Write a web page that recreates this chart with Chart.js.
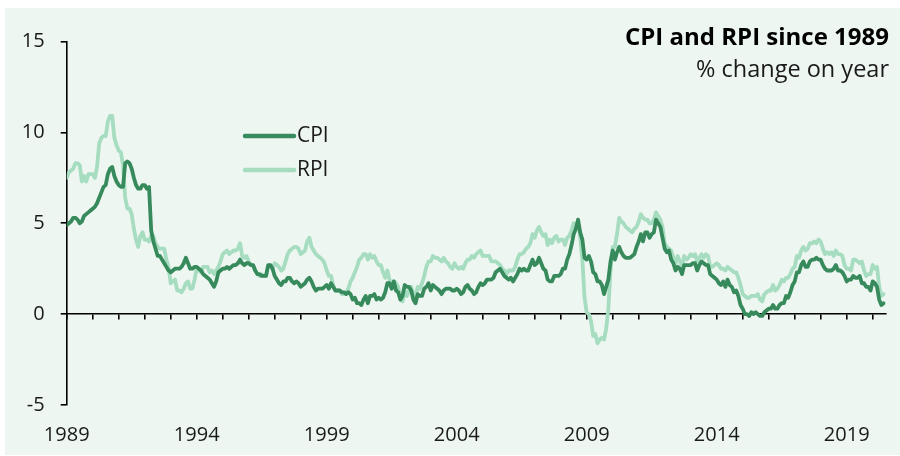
<!DOCTYPE html>
<html><head><meta charset="utf-8">
<script src="https://cdn.jsdelivr.net/npm/chart.js@4/dist/chart.umd.min.js"></script>
<style>html,body{margin:0;padding:0;background:#fff}#wrap{width:900px;height:456px}</style>
</head><body><div id="wrap"><canvas id="c" width="900" height="456"></canvas></div>
<script>
// ---- data (monthly, Jan 1989 – Jun 2020, % change on year) ----
const startYear = 1989;
const yearLabels = ['1989','1994','1999','2004','2009','2014','2019'];
const yTicks = [-5, 0, 5, 10, 15];
const seriesNames = ['CPI', 'RPI'];
const titleText = 'CPI and RPI since 1989';
const subtitleText = '% change on year';

const cpi = [
 4.9,5.0,5.1,5.3,5.3,5.2,5.0,5.1,5.4,5.5,5.6,5.7,
 5.8,5.9,6.1,6.4,6.7,7.0,7.1,7.7,8.0,8.1,7.6,7.3,
 7.1,7.0,7.0,8.3,8.4,8.3,8.0,7.5,7.1,6.9,6.9,7.1,
 7.1,6.9,7.0,4.6,4.0,3.6,3.2,3.2,3.0,2.8,2.6,2.4,
 2.3,2.4,2.5,2.5,2.5,2.6,2.8,3.1,2.8,2.5,2.5,2.6,
 2.6,2.5,2.4,2.2,2.1,2.0,1.9,1.7,1.5,1.8,2.3,2.4,
 2.5,2.5,2.6,2.5,2.6,2.7,2.7,2.8,3.0,2.8,2.7,2.8,
 2.8,2.7,2.7,2.4,2.2,2.2,2.1,2.1,2.1,2.7,2.7,2.5,
 2.1,1.9,1.7,1.6,1.8,1.8,2.0,2.0,1.8,1.7,1.8,1.7,
 1.5,1.6,1.7,1.9,2.0,1.8,1.5,1.3,1.4,1.4,1.4,1.5,
 1.6,1.4,1.7,1.5,1.3,1.3,1.3,1.2,1.2,1.1,1.2,1.1,
 0.8,0.9,0.6,0.6,0.5,0.8,1.0,0.6,1.0,1.0,1.1,0.8,
 0.9,0.8,0.9,1.2,1.7,1.7,1.4,1.8,1.3,1.2,0.8,1.0,
 1.6,1.5,1.5,1.3,0.8,0.6,1.1,1.0,1.0,1.4,1.5,1.7,
 1.3,1.6,1.5,1.4,1.3,1.1,1.3,1.4,1.4,1.4,1.3,1.3,
 1.4,1.3,1.1,1.2,1.5,1.6,1.4,1.3,1.1,1.2,1.5,1.7,
 1.6,1.7,1.9,1.9,1.9,2.0,2.3,2.4,2.5,2.3,2.1,2.0,
 1.9,2.0,1.8,2.0,2.2,2.5,2.4,2.5,2.4,2.4,2.7,3.0,
 2.7,2.8,3.1,2.8,2.5,2.4,1.9,1.8,1.8,2.1,2.1,2.1,
 2.2,2.5,2.5,3.0,3.3,3.8,4.4,4.7,5.2,4.5,4.1,3.1,
 3.0,3.2,2.9,2.3,2.2,1.8,1.8,1.6,1.1,1.5,1.9,2.9,
 3.5,3.0,3.4,3.7,3.4,3.2,3.1,3.1,3.1,3.2,3.3,3.7,
 4.0,4.4,4.0,4.5,4.5,4.2,4.4,4.5,5.2,5.0,4.8,4.2,
 3.6,3.4,3.5,3.0,2.8,2.4,2.6,2.5,2.2,2.7,2.7,2.7,
 2.7,2.8,2.8,2.4,2.7,2.9,2.8,2.7,2.7,2.2,2.1,2.0,
 1.9,1.7,1.6,1.8,1.5,1.9,1.6,1.5,1.2,1.3,1.0,0.5,
 0.3,0.0,0.0,-0.1,0.1,0.0,0.1,0.0,-0.1,-0.1,0.1,0.2,
 0.3,0.3,0.5,0.3,0.3,0.5,0.6,0.6,1.0,0.9,1.2,1.6,
 1.8,2.3,2.3,2.7,2.9,2.6,2.6,2.9,3.0,3.0,3.1,3.0,
 3.0,2.7,2.5,2.4,2.4,2.4,2.5,2.7,2.4,2.4,2.3,2.1,
 1.8,1.9,1.9,2.1,2.0,2.0,2.1,1.7,1.7,1.5,1.5,1.3,
 1.8,1.7,1.5,0.8,0.5,0.6
];

const rpi = [
 7.5,7.8,7.9,8.0,8.3,8.3,8.2,7.3,7.6,7.3,7.7,7.7,
 7.7,7.5,8.1,9.4,9.7,9.8,9.8,10.6,10.9,10.9,9.7,9.3,
 9.0,8.9,8.2,6.4,5.8,5.8,5.5,4.7,4.1,3.7,4.3,4.5,
 4.1,4.1,4.0,4.3,4.3,3.9,3.7,3.6,3.6,3.6,3.0,2.6,
 1.7,1.8,1.9,1.3,1.3,1.2,1.4,1.7,1.8,1.4,1.4,1.9,
 2.5,2.4,2.3,2.6,2.6,2.6,2.3,2.4,2.2,2.4,2.6,2.9,
 3.3,3.4,3.5,3.3,3.4,3.5,3.5,3.6,3.9,3.2,3.1,3.2,
 2.9,2.7,2.7,2.4,2.2,2.1,2.2,2.1,2.1,2.7,2.7,2.5,
 2.8,2.7,2.6,2.4,2.5,2.9,3.3,3.5,3.6,3.7,3.7,3.6,
 3.3,3.4,3.5,4.0,4.2,3.7,3.5,3.3,3.2,3.1,3.0,2.8,
 2.4,2.1,2.1,1.6,1.3,1.3,1.3,1.1,1.1,1.2,1.4,1.8,
 2.0,2.3,2.6,3.0,3.1,3.3,3.3,3.0,3.3,3.1,3.2,2.9,
 2.7,2.7,2.3,2.0,2.4,1.9,1.5,1.8,1.7,1.5,0.9,0.7,
 1.3,1.0,1.3,1.5,1.1,1.0,1.5,1.4,1.7,2.1,2.6,2.9,
 2.9,3.2,3.1,3.1,3.0,2.9,3.1,2.9,2.8,2.6,2.5,2.8,
 2.6,2.5,2.6,2.5,2.8,3.0,3.0,3.2,3.1,3.3,3.4,3.5,
 3.2,3.2,3.2,3.2,2.9,2.9,2.9,2.8,2.7,2.5,2.4,2.2,
 2.4,2.4,2.4,2.6,3.0,3.3,3.3,3.4,3.6,3.7,3.9,4.4,
 4.2,4.6,4.8,4.5,4.3,4.4,3.8,4.1,3.9,4.2,4.3,4.0,
 4.1,4.1,3.8,4.2,4.3,4.6,5.0,4.8,5.0,4.2,3.0,0.9,
 0.1,0.0,-0.4,-1.2,-1.1,-1.6,-1.4,-1.3,-1.4,-0.8,0.3,2.4,
 3.7,3.7,4.4,5.3,5.1,5.0,4.8,4.7,4.6,4.5,4.7,4.8,
 5.1,5.5,5.3,5.2,5.2,5.0,5.0,5.2,5.6,5.4,5.2,4.8,
 3.9,3.7,3.6,3.5,3.1,2.8,3.2,2.9,2.6,3.2,3.0,3.1,
 3.3,3.2,3.3,2.9,3.1,3.3,3.1,3.3,3.2,2.6,2.6,2.7,
 2.8,2.7,2.5,2.5,2.4,2.6,2.5,2.4,2.3,2.3,2.0,1.6,
 1.1,1.0,0.9,0.9,1.0,1.0,1.0,1.1,0.8,0.7,1.1,1.2,
 1.3,1.3,1.6,1.3,1.4,1.6,1.9,1.8,2.0,2.0,2.2,2.5,
 2.6,3.2,3.1,3.5,3.7,3.5,3.6,3.9,3.9,4.0,3.9,4.1,
 4.0,3.6,3.3,3.4,3.3,3.4,3.2,3.5,3.3,3.3,3.2,2.7,
 2.5,2.5,2.4,3.0,3.0,2.9,2.8,2.9,2.4,2.1,2.2,2.2,
 2.7,2.5,2.6,1.5,1.0,1.1
];

// ---- styling ----
const FONT = '"Open Sans", "Noto Sans", sans-serif';
const TEXT = '#1a1a1a';
const CPI_COL = '#378a5b';
const RPI_COL = '#a6dcbf';
const BG = '#edf6f1';

const monthsTotal = 378; // axis span in months from Jan of startYear
const toPoints = arr => arr.map((v, i) => ({ x: i, y: v }));

const bgPlugin = {
  id: 'bg',
  beforeDraw(chart) {
    const c = chart.ctx;
    c.save();
    c.fillStyle = '#ffffff';
    c.fillRect(0, 0, chart.width, chart.height);
    c.fillStyle = BG;
    c.fillRect(5, 8, chart.width - 5, chart.height - 9);
    c.restore();
  }
};

const titlePlugin = {
  id: 'titles',
  afterDraw(chart) {
    const c = chart.ctx;
    c.save();
    c.fillStyle = '#000';
    c.textAlign = 'right';
    c.textBaseline = 'alphabetic';
    c.font = 'bold 24px ' + FONT;
    c.fillText(titleText, 889, 45);
    c.fillStyle = TEXT;
    c.font = '23.5px ' + FONT;
    c.fillText(subtitleText, 889, 77);
    c.restore();
  }
};

const legendPlugin = {
  id: 'customLegend',
  afterDraw(chart) {
    const c = chart.ctx;
    c.save();
    chart.data.datasets.forEach((ds, i) => {
      const y = 136 + i * 34;
      c.strokeStyle = ds.borderColor;
      c.lineWidth = 4.5;
      c.lineCap = 'round';
      c.beginPath();
      c.moveTo(245, y);
      c.lineTo(294, y);
      c.stroke();
      c.fillStyle = TEXT;
      c.font = '21px ' + FONT;
      c.textAlign = 'left';
      c.textBaseline = 'middle';
      c.fillText(ds.label, 297, y);
    });
    c.restore();
  }
};

new Chart(document.getElementById('c'), {
  type: 'line',
  data: {
    datasets: [
      { label: seriesNames[0], data: toPoints(cpi), borderColor: CPI_COL, borderWidth: 3.8,
        pointRadius: 0, tension: 0, fill: false, borderJoinStyle: 'round', borderCapStyle: 'round', xAxisID: 'x', yAxisID: 'y' },
      { label: seriesNames[1], data: toPoints(rpi), borderColor: RPI_COL, borderWidth: 3.8,
        pointRadius: 0, tension: 0, fill: false, borderJoinStyle: 'round', borderCapStyle: 'round', xAxisID: 'x', yAxisID: 'y' }
    ]
  },
  options: {
    responsive: false,
    animation: false,
    devicePixelRatio: 1,
    layout: { padding: { top: 41.5, right: 14.3, left: 0, bottom: 0 } },
    plugins: { legend: { display: false }, tooltip: { enabled: false }, title: { display: false } },
    scales: {
      x: {
        type: 'linear', position: 'bottom', min: 0, max: monthsTotal,
        afterBuildTicks: s => { s.ticks = yearLabels.map((l, i) => ({ value: i * 60 })); },
        afterFit: s => { s.height = 51; },
        ticks: { callback: (v, i) => yearLabels[i], font: { family: FONT, size: 20 }, color: TEXT,
                 padding: 18, maxRotation: 0, autoSkip: false },
        grid: { display: false, drawTicks: false },
        border: { display: false }
      },
      xz: {
        type: 'linear', position: { y: 0 }, min: 0, max: monthsTotal,
        afterBuildTicks: s => { const t = []; for (let m = 0; m < monthsTotal; m += 12) t.push({ value: m }); s.ticks = t; },
        ticks: { display: false },
        grid: { drawOnChartArea: false, drawTicks: true, tickLength: 5, color: '#000', lineWidth: 1.6 },
        border: { display: true, color: '#000', width: 1.6 }
      },
      y: {
        min: -5, max: 15,
        afterBuildTicks: s => { s.ticks = yTicks.map(v => ({ value: v })); },
        afterFit: s => { s.width = 66.7; },
        ticks: { font: { family: FONT, size: 20 }, color: TEXT, padding: 16 },
        grid: { drawOnChartArea: false, drawTicks: true, tickLength: 6, color: '#000', lineWidth: 1.6 },
        border: { display: true, color: '#000', width: 1.6 }
      }
    }
  },
  plugins: [bgPlugin, titlePlugin, legendPlugin]
});
</script>
</body></html>
